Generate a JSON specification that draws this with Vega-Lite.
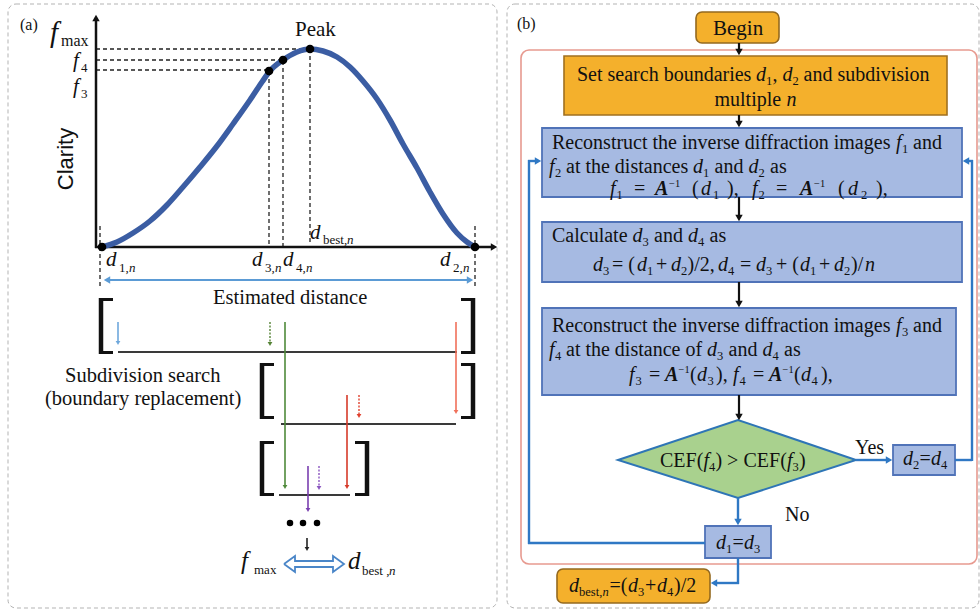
{
  "$schema": "https://vega.github.io/schema/vega-lite/v6.json",
  "width": 980,
  "height": 612,
  "padding": 0,
  "autosize": {"type": "none"},
  "background": "white",
  "config": {"view": {"stroke": null}},
  "encoding": {
    "x": {"field": "x", "type": "quantitative", "scale": {"domain": [0, 980], "nice": false, "zero": false}, "axis": null},
    "y": {"field": "y", "type": "quantitative", "scale": {"domain": [0, 612], "nice": false, "zero": false, "reverse": true}, "axis": null}
  },
  "datasets": {
    "boxes": [
      {"x": 8, "x2": 497, "y": 4, "y2": 608, "k": "panel"},
      {"x": 507, "x2": 979, "y": 4, "y2": 608, "k": "panel"},
      {"x": 521, "x2": 977, "y": 50, "y2": 564, "k": "frame"},
      {"x": 696, "x2": 779, "y": 12, "y2": 43, "k": "terminal"},
      {"x": 557, "x2": 710, "y": 569, "y2": 603, "k": "terminal"},
      {"x": 564, "x2": 947, "y": 56, "y2": 115, "k": "setup"},
      {"x": 542, "x2": 962, "y": 128, "y2": 197, "k": "step"},
      {"x": 542, "x2": 962, "y": 222, "y2": 282, "k": "step"},
      {"x": 542, "x2": 956, "y": 308, "y2": 395, "k": "step"},
      {"x": 893, "x2": 955, "y": 445, "y2": 475, "k": "step"},
      {"x": 705, "x2": 771, "y": 526, "y2": 558, "k": "step"}
    ],
    "diamond": [
      {"x": 618, "y": 460, "y2": 460},
      {"x": 738, "y": 420, "y2": 498},
      {"x": 856, "y": 460, "y2": 460}
    ],
    "curve": [
      {"i": 0, "x": 102, "y": 247}, {"i": 1, "x": 117, "y": 242}, {"i": 2, "x": 133, "y": 233},
      {"i": 3, "x": 150, "y": 221}, {"i": 4, "x": 167, "y": 205}, {"i": 5, "x": 183, "y": 187},
      {"i": 6, "x": 200, "y": 167}, {"i": 7, "x": 217, "y": 146}, {"i": 8, "x": 233, "y": 124},
      {"i": 9, "x": 250, "y": 100}, {"i": 10, "x": 262, "y": 82}, {"i": 11, "x": 269, "y": 72},
      {"i": 12, "x": 283, "y": 60}, {"i": 13, "x": 297, "y": 52}, {"i": 14, "x": 310, "y": 49},
      {"i": 15, "x": 323, "y": 51}, {"i": 16, "x": 337, "y": 57}, {"i": 17, "x": 350, "y": 67},
      {"i": 18, "x": 363, "y": 81}, {"i": 19, "x": 377, "y": 99}, {"i": 20, "x": 390, "y": 120},
      {"i": 21, "x": 403, "y": 144}, {"i": 22, "x": 417, "y": 168}, {"i": 23, "x": 430, "y": 192},
      {"i": 24, "x": 443, "y": 214}, {"i": 25, "x": 457, "y": 233}, {"i": 26, "x": 467, "y": 242},
      {"i": 27, "x": 475, "y": 247}
    ],
    "hollow": [
      {"i": 0, "x": 284, "y": 564}, {"i": 1, "x": 295, "y": 556}, {"i": 2, "x": 295, "y": 561},
      {"i": 3, "x": 333, "y": 561}, {"i": 4, "x": 333, "y": 556}, {"i": 5, "x": 344, "y": 564},
      {"i": 6, "x": 333, "y": 572}, {"i": 7, "x": 333, "y": 567}, {"i": 8, "x": 295, "y": 567},
      {"i": 9, "x": 295, "y": 572}, {"i": 10, "x": 284, "y": 564}
    ],
    "lines": [
      {"x": 96, "y": 248, "x2": 96, "y2": 18, "r": "axis"},
      {"x": 95, "y": 247, "x2": 493, "y2": 247, "r": "axis"},
      {"x": 96, "y": 49, "x2": 310, "y2": 49, "r": "guide"},
      {"x": 96, "y": 60, "x2": 283, "y2": 60, "r": "guide"},
      {"x": 96, "y": 70, "x2": 269, "y2": 70, "r": "guide"},
      {"x": 269, "y": 72, "x2": 269, "y2": 244, "r": "guide"},
      {"x": 283, "y": 61, "x2": 283, "y2": 247, "r": "guide"},
      {"x": 310, "y": 49, "x2": 310, "y2": 244, "r": "guide"},
      {"x": 100, "y": 226, "x2": 100, "y2": 289, "r": "guide"},
      {"x": 475, "y": 226, "x2": 475, "y2": 289, "r": "guide"},
      {"x": 108, "y": 280, "x2": 469, "y2": 280, "r": "span"},
      {"x": 118, "y": 352, "x2": 457, "y2": 352, "r": "level"},
      {"x": 281, "y": 424, "x2": 456, "y2": 424, "r": "level"},
      {"x": 279, "y": 495, "x2": 350, "y2": 495, "r": "level"},
      {"x": 101, "y": 298, "x2": 101, "y2": 354, "r": "brk"},
      {"x": 473, "y": 298, "x2": 473, "y2": 354, "r": "brk"},
      {"x": 262, "y": 363, "x2": 262, "y2": 419, "r": "brk"},
      {"x": 473, "y": 363, "x2": 473, "y2": 419, "r": "brk"},
      {"x": 262, "y": 441, "x2": 262, "y2": 496, "r": "brk"},
      {"x": 367, "y": 441, "x2": 367, "y2": 496, "r": "brk"},
      {"x": 99, "y": 299.5, "x2": 113, "y2": 299.5, "r": "serif"},
      {"x": 99, "y": 352.5, "x2": 113, "y2": 352.5, "r": "serif"},
      {"x": 461, "y": 299.5, "x2": 475, "y2": 299.5, "r": "serif"},
      {"x": 461, "y": 352.5, "x2": 475, "y2": 352.5, "r": "serif"},
      {"x": 260, "y": 364.5, "x2": 274, "y2": 364.5, "r": "serif"},
      {"x": 260, "y": 417.5, "x2": 274, "y2": 417.5, "r": "serif"},
      {"x": 461, "y": 364.5, "x2": 475, "y2": 364.5, "r": "serif"},
      {"x": 461, "y": 417.5, "x2": 475, "y2": 417.5, "r": "serif"},
      {"x": 260, "y": 442.5, "x2": 274, "y2": 442.5, "r": "serif"},
      {"x": 260, "y": 494.5, "x2": 274, "y2": 494.5, "r": "serif"},
      {"x": 355, "y": 442.5, "x2": 369, "y2": 442.5, "r": "serif"},
      {"x": 355, "y": 494.5, "x2": 369, "y2": 494.5, "r": "serif"},
      {"x": 118, "y": 322, "x2": 118, "y2": 342, "r": "blueShort"},
      {"x": 270, "y": 322, "x2": 270, "y2": 343, "r": "greenDash"},
      {"x": 285, "y": 322, "x2": 285, "y2": 486, "r": "green"},
      {"x": 456, "y": 322, "x2": 456, "y2": 411, "r": "red1"},
      {"x": 347, "y": 395, "x2": 347, "y2": 486, "r": "red2"},
      {"x": 359, "y": 395, "x2": 359, "y2": 415, "r": "redDash"},
      {"x": 308, "y": 466, "x2": 308, "y2": 509, "r": "purple"},
      {"x": 319, "y": 466, "x2": 319, "y2": 487, "r": "purpleDash"},
      {"x": 307, "y": 538, "x2": 307, "y2": 548, "r": "flowThin"},
      {"x": 739, "y": 43, "x2": 739, "y2": 51, "r": "flow"},
      {"x": 739, "y": 115, "x2": 739, "y2": 123, "r": "flow"},
      {"x": 739, "y": 197, "x2": 739, "y2": 217, "r": "flow"},
      {"x": 739, "y": 282, "x2": 739, "y2": 303, "r": "flow"},
      {"x": 739, "y": 395, "x2": 739, "y2": 416, "r": "flow"},
      {"x": 738, "y": 498, "x2": 738, "y2": 521, "r": "loop"},
      {"x": 856, "y": 460, "x2": 888, "y2": 460, "r": "loop"},
      {"x": 955, "y": 460, "x2": 972, "y2": 460, "r": "loop"},
      {"x": 972, "y": 461, "x2": 972, "y2": 160, "r": "loop"},
      {"x": 973, "y": 161, "x2": 966, "y2": 161, "r": "loop"},
      {"x": 705, "y": 543, "x2": 528, "y2": 543, "r": "loop"},
      {"x": 529, "y": 544, "x2": 529, "y2": 160, "r": "loop"},
      {"x": 528, "y": 161, "x2": 538, "y2": 161, "r": "loop"},
      {"x": 738, "y": 558, "x2": 738, "y2": 584, "r": "loop"},
      {"x": 739, "y": 583, "x2": 714, "y2": 583, "r": "loop"}
    ],
    "heads": [
      {"x": 96, "y": 18, "d": "up", "r": "axis"},
      {"x": 494, "y": 247, "d": "right", "r": "axis"},
      {"x": 107, "y": 280, "d": "left", "r": "span"},
      {"x": 470, "y": 280, "d": "right", "r": "span"},
      {"x": 118, "y": 343, "d": "down", "r": "blueShort"},
      {"x": 270, "y": 344, "d": "down", "r": "greenDash"},
      {"x": 285, "y": 487, "d": "down", "r": "green"},
      {"x": 456, "y": 412, "d": "down", "r": "red1"},
      {"x": 347, "y": 487, "d": "down", "r": "red2"},
      {"x": 359, "y": 416, "d": "down", "r": "redDash"},
      {"x": 308, "y": 510, "d": "down", "r": "purple"},
      {"x": 319, "y": 488, "d": "down", "r": "purpleDash"},
      {"x": 307, "y": 549, "d": "down", "r": "flowThin"},
      {"x": 739, "y": 52, "d": "down", "r": "flow"},
      {"x": 739, "y": 124, "d": "down", "r": "flow"},
      {"x": 739, "y": 218, "d": "down", "r": "flow"},
      {"x": 739, "y": 304, "d": "down", "r": "flow"},
      {"x": 739, "y": 417, "d": "down", "r": "flow"},
      {"x": 738, "y": 522, "d": "down", "r": "loop"},
      {"x": 889, "y": 460, "d": "right", "r": "loop"},
      {"x": 966, "y": 161, "d": "left", "r": "loop"},
      {"x": 538, "y": 161, "d": "right", "r": "loop"},
      {"x": 714, "y": 583, "d": "left", "r": "loop"}
    ],
    "dots": [
      {"x": 102, "y": 247, "k": "mark"},
      {"x": 475, "y": 247, "k": "mark"},
      {"x": 269, "y": 71, "k": "mark"},
      {"x": 283, "y": 60, "k": "mark"},
      {"x": 310, "y": 49, "k": "mark"},
      {"x": 290, "y": 523, "k": "ellipsis"},
      {"x": 303, "y": 523, "k": "ellipsis"},
      {"x": 317, "y": 523, "k": "ellipsis"}
    ],
    "labels": [
      {"t": "(a)", "x": 20, "y": 30, "r": "panel"},
      {"t": "f", "x": 50, "y": 42, "r": "big"},
      {"t": "max", "x": 61, "y": 46, "r": "lbl"},
      {"t": "f", "x": 73, "y": 67, "r": "axv"},
      {"t": "4", "x": 81, "y": 72, "r": "axs"},
      {"t": "f", "x": 73, "y": 93, "r": "axv"},
      {"t": "3", "x": 81, "y": 98, "r": "axs"},
      {"t": "Clarity", "x": 66, "y": 159, "r": "cl"},
      {"t": "Peak", "x": 295, "y": 36, "r": "head"},
      {"t": "d", "x": 310, "y": 239, "r": "axv"},
      {"t": "best,", "x": 323, "y": 244, "r": "axs"},
      {"t": "n", "x": 347, "y": 244, "r": "axsv"},
      {"t": "d", "x": 106, "y": 266, "r": "axv"},
      {"t": "1,", "x": 119, "y": 272, "r": "axs"},
      {"t": "n", "x": 129, "y": 272, "r": "axsv"},
      {"t": "d", "x": 252, "y": 266, "r": "axv"},
      {"t": "3,", "x": 265, "y": 272, "r": "axs"},
      {"t": "n", "x": 275, "y": 272, "r": "axsv"},
      {"t": "d", "x": 283, "y": 266, "r": "axv"},
      {"t": "4,", "x": 296, "y": 272, "r": "axs"},
      {"t": "n", "x": 306, "y": 272, "r": "axsv"},
      {"t": "d", "x": 440, "y": 266, "r": "axv"},
      {"t": "2,", "x": 453, "y": 272, "r": "axs"},
      {"t": "n", "x": 463, "y": 272, "r": "axsv"},
      {"t": "Estimated distance", "x": 213, "y": 304, "r": "cap"},
      {"t": "Subdivision search", "x": 65, "y": 382, "r": "cap"},
      {"t": "(boundary replacement)", "x": 45, "y": 405, "r": "cap"},
      {"t": "f", "x": 241, "y": 569, "r": "bf"},
      {"t": "max", "x": 254, "y": 574, "r": "axs"},
      {"t": "d", "x": 348, "y": 569, "r": "bf"},
      {"t": "best ,", "x": 362, "y": 575, "r": "axs"},
      {"t": "n", "x": 389, "y": 575, "r": "axsv"},

      {"t": "(b)", "x": 517, "y": 29, "r": "panel"},
      {"t": "Begin", "x": 713, "y": 35, "r": "head"},

      {"t": "Set search boundaries", "x": 577, "y": 81, "r": "body"},
      {"t": "d", "x": 756, "y": 81, "r": "var"},
      {"t": "1", "x": 766, "y": 85, "r": "sub"},
      {"t": ",", "x": 772.5, "y": 81, "r": "body"},
      {"t": "d", "x": 782.5, "y": 81, "r": "var"},
      {"t": "2", "x": 792.5, "y": 85, "r": "sub"},
      {"t": "and subdivision", "x": 803.5, "y": 81, "r": "body"},
      {"t": "multiple", "x": 714.5, "y": 106, "r": "body"},
      {"t": "n", "x": 786.5, "y": 106, "r": "var"},

      {"t": "Reconstruct the inverse diffraction images", "x": 552, "y": 149, "r": "body"},
      {"t": "f", "x": 896, "y": 149, "r": "var"},
      {"t": "1", "x": 902, "y": 153, "r": "sub"},
      {"t": "and", "x": 913, "y": 149, "r": "body"},
      {"t": "f", "x": 549, "y": 173, "r": "var"},
      {"t": "2", "x": 555, "y": 176.5, "r": "sub"},
      {"t": "at the distances", "x": 566, "y": 173, "r": "body"},
      {"t": "d", "x": 693, "y": 173, "r": "var"},
      {"t": "1", "x": 703, "y": 176.5, "r": "sub"},
      {"t": "and", "x": 714.5, "y": 173, "r": "body"},
      {"t": "d", "x": 748.5, "y": 173, "r": "var"},
      {"t": "2", "x": 758.5, "y": 176.5, "r": "sub"},
      {"t": "as", "x": 770, "y": 173, "r": "body"},
      {"t": "f", "x": 610, "y": 194.5, "r": "var"},
      {"t": "1", "x": 616.5, "y": 198.5, "r": "sub"},
      {"t": "=", "x": 634, "y": 194.5, "r": "body"},
      {"t": "A", "x": 655, "y": 194.5, "r": "mat"},
      {"t": "−1", "x": 669, "y": 186.5, "r": "sup"},
      {"t": "(", "x": 692, "y": 194.5, "r": "body"},
      {"t": "d", "x": 701, "y": 194.5, "r": "var"},
      {"t": "1", "x": 713, "y": 198.5, "r": "sub"},
      {"t": "),", "x": 727, "y": 194.5, "r": "body"},
      {"t": "f", "x": 752, "y": 194.5, "r": "var"},
      {"t": "2", "x": 758.5, "y": 198.5, "r": "sub"},
      {"t": "=", "x": 776, "y": 194.5, "r": "body"},
      {"t": "A", "x": 800, "y": 194.5, "r": "mat"},
      {"t": "−1", "x": 814, "y": 186.5, "r": "sup"},
      {"t": "(", "x": 838, "y": 194.5, "r": "body"},
      {"t": "d", "x": 848, "y": 194.5, "r": "var"},
      {"t": "2", "x": 861, "y": 198.5, "r": "sub"},
      {"t": "),", "x": 876, "y": 194.5, "r": "body"},

      {"t": "Calculate", "x": 552, "y": 242, "r": "body"},
      {"t": "d", "x": 632.5, "y": 242, "r": "var"},
      {"t": "3", "x": 642.5, "y": 246, "r": "sub"},
      {"t": "and", "x": 654, "y": 242, "r": "body"},
      {"t": "d", "x": 688, "y": 242, "r": "var"},
      {"t": "4", "x": 698, "y": 246, "r": "sub"},
      {"t": "as", "x": 709.5, "y": 242, "r": "body"},
      {"t": "d", "x": 593, "y": 271, "r": "var"},
      {"t": "3", "x": 603, "y": 275, "r": "sub"},
      {"t": "= (", "x": 612, "y": 271, "r": "body"},
      {"t": "d", "x": 637, "y": 271, "r": "var"},
      {"t": "1", "x": 647, "y": 275, "r": "sub"},
      {"t": "+", "x": 656, "y": 271, "r": "body"},
      {"t": "d", "x": 671, "y": 271, "r": "var"},
      {"t": "2", "x": 681, "y": 275, "r": "sub"},
      {"t": ")/2,", "x": 687.5, "y": 271, "r": "body"},
      {"t": "d", "x": 718, "y": 271, "r": "var"},
      {"t": "4", "x": 728, "y": 275, "r": "sub"},
      {"t": "=", "x": 740, "y": 271, "r": "body"},
      {"t": "d", "x": 756, "y": 271, "r": "var"},
      {"t": "3", "x": 766, "y": 275, "r": "sub"},
      {"t": "+ (", "x": 776, "y": 271, "r": "body"},
      {"t": "d", "x": 800, "y": 271, "r": "var"},
      {"t": "1", "x": 810, "y": 275, "r": "sub"},
      {"t": "+", "x": 819, "y": 271, "r": "body"},
      {"t": "d", "x": 834, "y": 271, "r": "var"},
      {"t": "2", "x": 844, "y": 275, "r": "sub"},
      {"t": ")/", "x": 851, "y": 271, "r": "body"},
      {"t": "n", "x": 865, "y": 271, "r": "var"},

      {"t": "Reconstruct the inverse diffraction images", "x": 552, "y": 332, "r": "body"},
      {"t": "f", "x": 896, "y": 332, "r": "var"},
      {"t": "3", "x": 902, "y": 336, "r": "sub"},
      {"t": "and", "x": 913, "y": 332, "r": "body"},
      {"t": "f", "x": 549, "y": 356, "r": "var"},
      {"t": "4", "x": 555, "y": 359.5, "r": "sub"},
      {"t": "at the distance of", "x": 566, "y": 356, "r": "body"},
      {"t": "d", "x": 707, "y": 356, "r": "var"},
      {"t": "3", "x": 717, "y": 359.5, "r": "sub"},
      {"t": "and", "x": 728.5, "y": 356, "r": "body"},
      {"t": "d", "x": 762.5, "y": 356, "r": "var"},
      {"t": "4", "x": 772.5, "y": 359.5, "r": "sub"},
      {"t": "as", "x": 784, "y": 356, "r": "body"},
      {"t": "f", "x": 629, "y": 380.5, "r": "var"},
      {"t": "3", "x": 635.5, "y": 384.5, "r": "sub"},
      {"t": "=", "x": 649, "y": 380.5, "r": "body"},
      {"t": "A", "x": 665, "y": 380.5, "r": "mat"},
      {"t": "−1", "x": 678.5, "y": 372.5, "r": "sup"},
      {"t": "(", "x": 690, "y": 380.5, "r": "body"},
      {"t": "d", "x": 697, "y": 380.5, "r": "var"},
      {"t": "3", "x": 707.5, "y": 384.5, "r": "sub"},
      {"t": "),", "x": 716, "y": 380.5, "r": "body"},
      {"t": "f", "x": 733, "y": 380.5, "r": "var"},
      {"t": "4", "x": 739.5, "y": 384.5, "r": "sub"},
      {"t": "=", "x": 753, "y": 380.5, "r": "body"},
      {"t": "A", "x": 769, "y": 380.5, "r": "mat"},
      {"t": "−1", "x": 782.5, "y": 372.5, "r": "sup"},
      {"t": "(", "x": 794, "y": 380.5, "r": "body"},
      {"t": "d", "x": 801, "y": 380.5, "r": "var"},
      {"t": "4", "x": 811.5, "y": 384.5, "r": "sub"},
      {"t": "),", "x": 821, "y": 380.5, "r": "body"},

      {"t": "CEF(", "x": 660, "y": 467, "r": "body"},
      {"t": "f", "x": 703.5, "y": 467, "r": "var"},
      {"t": "4", "x": 709, "y": 471, "r": "sub"},
      {"t": ")", "x": 715.5, "y": 467, "r": "body"},
      {"t": ">", "x": 727, "y": 467, "r": "body"},
      {"t": "CEF(", "x": 743.5, "y": 467, "r": "body"},
      {"t": "f", "x": 787, "y": 467, "r": "var"},
      {"t": "3", "x": 792.5, "y": 471, "r": "sub"},
      {"t": ")", "x": 799, "y": 467, "r": "body"},
      {"t": "Yes", "x": 855, "y": 454, "r": "body"},
      {"t": "d", "x": 903, "y": 465, "r": "var"},
      {"t": "2", "x": 913, "y": 469, "r": "sub"},
      {"t": "=", "x": 919.5, "y": 465, "r": "body"},
      {"t": "d", "x": 931, "y": 465, "r": "var"},
      {"t": "4", "x": 941, "y": 469, "r": "sub"},
      {"t": "No", "x": 785, "y": 521, "r": "body"},
      {"t": "d", "x": 716, "y": 549, "r": "var"},
      {"t": "1", "x": 726, "y": 553, "r": "sub"},
      {"t": "=", "x": 732.5, "y": 549, "r": "body"},
      {"t": "d", "x": 744, "y": 549, "r": "var"},
      {"t": "3", "x": 754, "y": 553, "r": "sub"},
      {"t": "d", "x": 569, "y": 592, "r": "var"},
      {"t": "best,", "x": 579, "y": 596, "r": "sub"},
      {"t": "n", "x": 602.5, "y": 596, "r": "subv"},
      {"t": "=(", "x": 609.5, "y": 592, "r": "body"},
      {"t": "d", "x": 628, "y": 592, "r": "var"},
      {"t": "3", "x": 638, "y": 596, "r": "sub"},
      {"t": "+", "x": 645, "y": 592, "r": "body"},
      {"t": "d", "x": 657, "y": 592, "r": "var"},
      {"t": "4", "x": 667, "y": 596, "r": "sub"},
      {"t": ")/2", "x": 674, "y": 592, "r": "body"}
    ]
  },
  "layer": [
    {"data": {"name": "boxes"}, "transform": [{"filter": "datum.k === 'panel'"}],
     "mark": {"type": "rect", "fill": null, "stroke": "#b3b3b3", "strokeWidth": 1, "strokeDash": [4, 3], "cornerRadius": 8},
     "encoding": {"x2": {"field": "x2"}, "y2": {"field": "y2"}}},
    {"data": {"name": "boxes"}, "transform": [{"filter": "datum.k === 'frame'"}],
     "mark": {"type": "rect", "fill": null, "stroke": "#e79a90", "strokeWidth": 1.6, "cornerRadius": 8},
     "encoding": {"x2": {"field": "x2"}, "y2": {"field": "y2"}}},
    {"data": {"name": "boxes"}, "transform": [{"filter": "datum.k === 'terminal'"}],
     "mark": {"type": "rect", "fill": "#f4b02c", "stroke": "#94691f", "strokeWidth": 1.6, "cornerRadius": 6},
     "encoding": {"x2": {"field": "x2"}, "y2": {"field": "y2"}}},
    {"data": {"name": "boxes"}, "transform": [{"filter": "datum.k === 'setup'"}],
     "mark": {"type": "rect", "fill": "#f4b02c", "stroke": "#a07020", "strokeWidth": 1.6},
     "encoding": {"x2": {"field": "x2"}, "y2": {"field": "y2"}}},
    {"data": {"name": "boxes"}, "transform": [{"filter": "datum.k === 'step'"}],
     "mark": {"type": "rect", "fill": "#a6bae2", "stroke": "#5073b8", "strokeWidth": 1.8},
     "encoding": {"x2": {"field": "x2"}, "y2": {"field": "y2"}}},
    {"data": {"name": "diamond"},
     "mark": {"type": "area", "fill": "#a9d18e", "fillOpacity": 1, "stroke": "#2e75b6", "strokeWidth": 2, "interpolate": "linear"},
     "encoding": {"y2": {"field": "y2"}}},

    {"data": {"name": "lines"}, "transform": [{"filter": "datum.r === 'guide'"}],
     "mark": {"type": "rule", "color": "#222222", "strokeWidth": 1.3, "strokeDash": [4, 3]},
     "encoding": {"x2": {"field": "x2"}, "y2": {"field": "y2"}}},
    {"data": {"name": "lines"}, "transform": [{"filter": "datum.r === 'axis'"}],
     "mark": {"type": "rule", "color": "#111111", "strokeWidth": 2.5},
     "encoding": {"x2": {"field": "x2"}, "y2": {"field": "y2"}}},
    {"data": {"name": "lines"}, "transform": [{"filter": "datum.r === 'span'"}],
     "mark": {"type": "rule", "color": "#5b9bd5", "strokeWidth": 2.2},
     "encoding": {"x2": {"field": "x2"}, "y2": {"field": "y2"}}},
    {"data": {"name": "lines"}, "transform": [{"filter": "datum.r === 'level'"}],
     "mark": {"type": "rule", "color": "#3a3a3a", "strokeWidth": 2},
     "encoding": {"x2": {"field": "x2"}, "y2": {"field": "y2"}}},
    {"data": {"name": "lines"}, "transform": [{"filter": "datum.r === 'brk'"}],
     "mark": {"type": "rule", "color": "#111111", "strokeWidth": 4.5},
     "encoding": {"x2": {"field": "x2"}, "y2": {"field": "y2"}}},
    {"data": {"name": "lines"}, "transform": [{"filter": "datum.r === 'serif'"}],
     "mark": {"type": "rule", "color": "#111111", "strokeWidth": 3},
     "encoding": {"x2": {"field": "x2"}, "y2": {"field": "y2"}}},
    {"data": {"name": "lines"}, "transform": [{"filter": {"field": "r", "oneOf": ["blueShort", "green", "red1", "red2", "purple", "flowThin"]}}],
     "mark": {"type": "rule", "strokeWidth": 1.6},
     "encoding": {"x2": {"field": "x2"}, "y2": {"field": "y2"},
       "color": {"field": "r", "type": "nominal", "legend": null, "scale": {
         "domain": ["blueShort", "greenDash", "green", "red1", "red2", "redDash", "purple", "purpleDash", "flowThin", "axis", "span", "flow", "loop"],
         "range": ["#6fa8dc", "#548235", "#4f8a3a", "#f0705a", "#d63a2a", "#e0402e", "#7a3fb0", "#8a55c0", "#222222", "#111111", "#5b9bd5", "#111111", "#2f78c4"]}}}},
    {"data": {"name": "lines"}, "transform": [{"filter": {"field": "r", "oneOf": ["greenDash", "redDash", "purpleDash"]}}],
     "mark": {"type": "rule", "strokeWidth": 1.4, "strokeDash": [2, 1.5]},
     "encoding": {"x2": {"field": "x2"}, "y2": {"field": "y2"},
       "color": {"field": "r", "type": "nominal", "legend": null, "scale": {
         "domain": ["blueShort", "greenDash", "green", "red1", "red2", "redDash", "purple", "purpleDash", "flowThin", "axis", "span", "flow", "loop"],
         "range": ["#6fa8dc", "#548235", "#4f8a3a", "#f0705a", "#d63a2a", "#e0402e", "#7a3fb0", "#8a55c0", "#222222", "#111111", "#5b9bd5", "#111111", "#2f78c4"]}}}},
    {"data": {"name": "lines"}, "transform": [{"filter": "datum.r === 'flow'"}],
     "mark": {"type": "rule", "color": "#111111", "strokeWidth": 2.2},
     "encoding": {"x2": {"field": "x2"}, "y2": {"field": "y2"}}},
    {"data": {"name": "lines"}, "transform": [{"filter": "datum.r === 'loop'"}],
     "mark": {"type": "rule", "color": "#2f78c4", "strokeWidth": 2.4},
     "encoding": {"x2": {"field": "x2"}, "y2": {"field": "y2"}}},

    {"data": {"name": "curve"},
     "mark": {"type": "line", "color": "#3b5da3", "strokeWidth": 5.5, "strokeCap": "round", "interpolate": "monotone"},
     "encoding": {"order": {"field": "i"}}},
    {"data": {"name": "hollow"},
     "mark": {"type": "line", "color": "#4a86c8", "strokeWidth": 1.8, "strokeJoin": "miter"},
     "encoding": {"order": {"field": "i"}}},

    {"data": {"name": "heads"}, "transform": [{"filter": {"field": "r", "oneOf": ["axis", "flow", "loop", "span"]}}],
     "mark": {"type": "point", "filled": true, "opacity": 1, "size": 55, "strokeWidth": 0},
     "encoding": {
       "shape": {"field": "d", "type": "nominal", "legend": null, "scale": {"domain": ["down", "up", "left", "right"], "range": ["triangle-down", "triangle-up", "triangle-left", "triangle-right"]}},
       "color": {"field": "r", "type": "nominal", "legend": null, "scale": {
         "domain": ["blueShort", "greenDash", "green", "red1", "red2", "redDash", "purple", "purpleDash", "flowThin", "axis", "span", "flow", "loop"],
         "range": ["#6fa8dc", "#548235", "#4f8a3a", "#f0705a", "#d63a2a", "#e0402e", "#7a3fb0", "#8a55c0", "#222222", "#111111", "#5b9bd5", "#111111", "#2f78c4"]}}}},
    {"data": {"name": "heads"}, "transform": [{"filter": {"not": {"field": "r", "oneOf": ["axis", "flow", "loop", "span"]}}}],
     "mark": {"type": "point", "filled": true, "opacity": 1, "size": 22, "strokeWidth": 0},
     "encoding": {
       "shape": {"field": "d", "type": "nominal", "legend": null, "scale": {"domain": ["down", "up", "left", "right"], "range": ["triangle-down", "triangle-up", "triangle-left", "triangle-right"]}},
       "color": {"field": "r", "type": "nominal", "legend": null, "scale": {
         "domain": ["blueShort", "greenDash", "green", "red1", "red2", "redDash", "purple", "purpleDash", "flowThin", "axis", "span", "flow", "loop"],
         "range": ["#6fa8dc", "#548235", "#4f8a3a", "#f0705a", "#d63a2a", "#e0402e", "#7a3fb0", "#8a55c0", "#222222", "#111111", "#5b9bd5", "#111111", "#2f78c4"]}}}},

    {"data": {"name": "dots"}, "transform": [{"filter": "datum.k === 'mark'"}],
     "mark": {"type": "circle", "color": "#000000", "opacity": 1, "size": 75}},
    {"data": {"name": "dots"}, "transform": [{"filter": "datum.k === 'ellipsis'"}],
     "mark": {"type": "circle", "color": "#000000", "opacity": 1, "size": 42}},

    {"data": {"name": "labels"}, "transform": [{"filter": "datum.r === 'panel'"}],
     "mark": {"type": "text", "font": "Liberation Serif", "fontSize": 16, "align": "left", "baseline": "alphabetic", "color": "#111111"},
     "encoding": {"text": {"field": "t"}}},
    {"data": {"name": "labels"}, "transform": [{"filter": "datum.r === 'head'"}],
     "mark": {"type": "text", "font": "Liberation Serif", "fontSize": 21, "align": "left", "baseline": "alphabetic", "color": "#111111"},
     "encoding": {"text": {"field": "t"}}},
    {"data": {"name": "labels"}, "transform": [{"filter": "datum.r === 'cap'"}],
     "mark": {"type": "text", "font": "Liberation Serif", "fontSize": 20.5, "align": "left", "baseline": "alphabetic", "color": "#111111"},
     "encoding": {"text": {"field": "t"}}},
    {"data": {"name": "labels"}, "transform": [{"filter": "datum.r === 'body'"}],
     "mark": {"type": "text", "font": "Liberation Serif", "fontSize": 20, "align": "left", "baseline": "alphabetic", "color": "#111111"},
     "encoding": {"text": {"field": "t"}}},
    {"data": {"name": "labels"}, "transform": [{"filter": "datum.r === 'sub'"}],
     "mark": {"type": "text", "font": "Liberation Serif", "fontSize": 12.5, "align": "left", "baseline": "alphabetic", "color": "#111111"},
     "encoding": {"text": {"field": "t"}}},
    {"data": {"name": "labels"}, "transform": [{"filter": "datum.r === 'sup'"}],
     "mark": {"type": "text", "font": "Liberation Serif", "fontSize": 10.5, "align": "left", "baseline": "alphabetic", "color": "#111111"},
     "encoding": {"text": {"field": "t"}}},
    {"data": {"name": "labels"}, "transform": [{"filter": "datum.r === 'axs'"}],
     "mark": {"type": "text", "font": "Liberation Serif", "fontSize": 13, "align": "left", "baseline": "alphabetic", "color": "#111111"},
     "encoding": {"text": {"field": "t"}}},
    {"data": {"name": "labels"}, "transform": [{"filter": "datum.r === 'lbl'"}],
     "mark": {"type": "text", "font": "Liberation Serif", "fontSize": 16, "align": "left", "baseline": "alphabetic", "color": "#111111"},
     "encoding": {"text": {"field": "t"}}},
    {"data": {"name": "labels"}, "transform": [{"filter": "datum.r === 'var'"}],
     "mark": {"type": "text", "font": "Liberation Serif", "fontStyle": "italic", "fontSize": 20, "align": "left", "baseline": "alphabetic", "color": "#111111"},
     "encoding": {"text": {"field": "t"}}},
    {"data": {"name": "labels"}, "transform": [{"filter": "datum.r === 'subv'"}],
     "mark": {"type": "text", "font": "Liberation Serif", "fontStyle": "italic", "fontSize": 12.5, "align": "left", "baseline": "alphabetic", "color": "#111111"},
     "encoding": {"text": {"field": "t"}}},
    {"data": {"name": "labels"}, "transform": [{"filter": "datum.r === 'axv'"}],
     "mark": {"type": "text", "font": "Liberation Serif", "fontStyle": "italic", "fontSize": 21, "align": "left", "baseline": "alphabetic", "color": "#111111"},
     "encoding": {"text": {"field": "t"}}},
    {"data": {"name": "labels"}, "transform": [{"filter": "datum.r === 'axsv'"}],
     "mark": {"type": "text", "font": "Liberation Serif", "fontStyle": "italic", "fontSize": 13, "align": "left", "baseline": "alphabetic", "color": "#111111"},
     "encoding": {"text": {"field": "t"}}},
    {"data": {"name": "labels"}, "transform": [{"filter": "datum.r === 'big'"}],
     "mark": {"type": "text", "font": "Liberation Serif", "fontStyle": "italic", "fontSize": 29, "align": "left", "baseline": "alphabetic", "color": "#111111"},
     "encoding": {"text": {"field": "t"}}},
    {"data": {"name": "labels"}, "transform": [{"filter": "datum.r === 'bf'"}],
     "mark": {"type": "text", "font": "Liberation Serif", "fontStyle": "italic", "fontSize": 25, "align": "left", "baseline": "alphabetic", "color": "#111111"},
     "encoding": {"text": {"field": "t"}}},
    {"data": {"name": "labels"}, "transform": [{"filter": "datum.r === 'mat'"}],
     "mark": {"type": "text", "font": "Liberation Serif", "fontStyle": "italic", "fontWeight": "bold", "fontSize": 20, "align": "left", "baseline": "alphabetic", "color": "#111111"},
     "encoding": {"text": {"field": "t"}}},
    {"data": {"name": "labels"}, "transform": [{"filter": "datum.r === 'cl'"}],
     "mark": {"type": "text", "font": "Liberation Sans", "fontSize": 22, "angle": 270, "align": "center", "baseline": "middle", "color": "#111111"},
     "encoding": {"text": {"field": "t"}}}
  ]
}
